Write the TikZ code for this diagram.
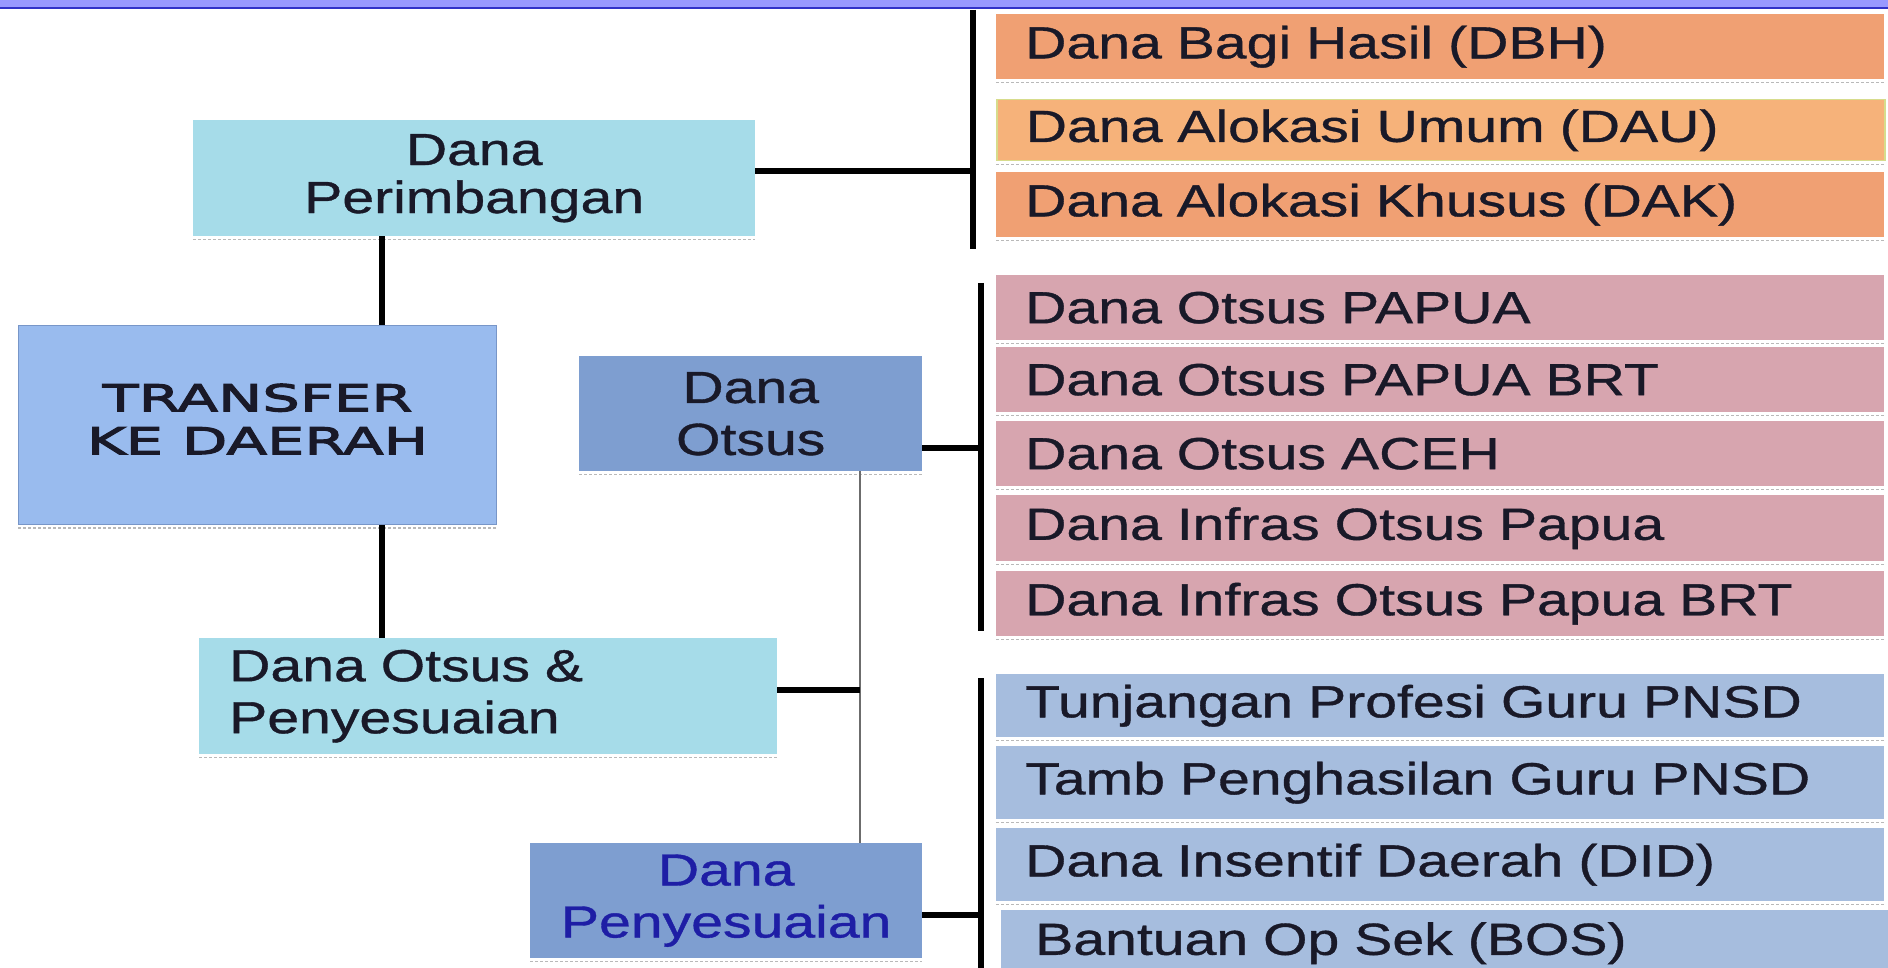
\documentclass[tikz,border=0pt]{standalone}
\usepackage{fontspec}
\newfontfamily\boxfont[FakeStretch=1.27, FakeBold=0.8]{Liberation Sans}
\newfontfamily\headfont[FakeStretch=1.6, FakeBold=3]{DejaVu Sans}
\definecolor{bandblue}{RGB}{153,153,255}
\definecolor{bandline}{RGB}{50,50,200}
\definecolor{cyanbox}{RGB}{166,220,233}
\definecolor{transferblue}{RGB}{153,187,238}
\definecolor{transferedge}{RGB}{120,150,200}
\definecolor{otsusblue}{RGB}{126,158,208}
\definecolor{dbhorange}{RGB}{240,160,115}
\definecolor{dauorange}{RGB}{246,178,122}
\definecolor{dauedge}{RGB}{215,220,140}
\definecolor{otsuspink}{RGB}{215,165,175}
\definecolor{pnsdblue}{RGB}{166,189,222}
\definecolor{textdark}{RGB}{25,25,40}
\definecolor{textblue}{RGB}{30,30,165}
\tikzset{
  shadowline/.style={draw=gray!55, line width=1.5pt, dash pattern=on 3pt off 2pt},
  fundbox/.style={anchor=north west, inner sep=0pt, align=center, text=textdark,
    font=\boxfont\fontsize{45}{52}\selectfont,
    append after command={([yshift=-3pt]\tikzlastnode.south west) edge[shadowline] ([yshift=-3pt]\tikzlastnode.south east)}},
  itembox/.style={fundbox, align=left, minimum width=888pt, text width=830pt, inner xsep=29pt},
  thickline/.style={line width=5.5pt, black},
  thinline/.style={line width=2.5pt, gray!85!black}
}
\begin{document}
\begin{tikzpicture}[x=1pt,y=-1pt]
\useasboundingbox (0,0) rectangle (1888,968);
\fill[white] (0,0) rectangle (1888,968);
% top band
\fill[bandblue] (0,0) rectangle (1888,7);
\draw[bandline, line width=2pt] (0,8) -- (1888,8);

% left tree
\node[fundbox, fill=cyanbox, minimum width=562pt, minimum height=116pt] (perim) at (193,120) {Dana\\[-4pt]Perimbangan};
\node[fundbox, fill=transferblue, draw=transferedge, line width=1pt, minimum width=478pt, minimum height=199pt,
  font=\headfont\fontsize{37}{43}\selectfont] (transfer) at (18,325) {TRANSFER\\KE DAERAH\\[-31pt]};
\node[fundbox, fill=cyanbox, align=left, text width=518pt, inner xsep=30pt, minimum height=116pt] (otspen) at (199,638) {Dana Otsus \&\\Penyesuaian};
\node[fundbox, fill=otsusblue, minimum width=343pt, minimum height=115pt] (dotsus) at (579,356) {Dana\\Otsus};
\node[fundbox, fill=otsusblue, minimum width=392pt, minimum height=115pt, text=textblue] (dpeny) at (530,843) {Dana\\Penyesuaian};

% right column
\node[itembox, fill=dbhorange, minimum height=65pt] (dbh) at (996,14) {Dana Bagi Hasil (DBH)};
\node[itembox, fill=dauorange, draw=dauedge, line width=1.5pt, minimum height=61pt] (dau) at (996,99) {Dana Alokasi Umum (DAU)};
\node[itembox, fill=dbhorange, minimum height=65pt] (dak) at (996,172) {Dana Alokasi Khusus (DAK)};

\node[itembox, fill=otsuspink, minimum height=65pt] (papua) at (996,275) {Dana Otsus PAPUA};
\node[itembox, fill=otsuspink, minimum height=65pt] (papuabrt) at (996,347) {Dana Otsus PAPUA BRT};
\node[itembox, fill=otsuspink, minimum height=65pt] (aceh) at (996,421) {Dana Otsus ACEH};
\node[itembox, fill=otsuspink, minimum height=66pt] (infpapua) at (996,495) {Dana Infras Otsus Papua};
\node[itembox, fill=otsuspink, minimum height=65pt] (infbrt) at (996,571) {Dana Infras Otsus Papua BRT};

\node[itembox, fill=pnsdblue, minimum height=63pt] (tpg) at (996,674) {Tunjangan Profesi Guru PNSD};
\node[itembox, fill=pnsdblue, minimum height=73pt] (tamb) at (996,746) {Tamb Penghasilan Guru PNSD};
\node[itembox, fill=pnsdblue, minimum height=73pt] (did) at (996,828) {Dana Insentif Daerah (DID)};
\node[itembox, fill=pnsdblue, minimum height=66pt, inner xsep=34pt] (bos) at (1001,910) {Bantuan Op Sek (BOS)};

% spines and bars
\coordinate (spine) at (382,0);
\coordinate (branch) at (860,0);
\coordinate (bar1top) at (973,10);
\coordinate (bar1bot) at (973,249);
\coordinate (bar2top) at (981,283);
\coordinate (bar2bot) at (981,631);
\coordinate (bar3top) at (981,678);
\coordinate (bar3bot) at (981,968);

\draw[thickline] (perim.south -| spine) -- (transfer.north -| spine);
\draw[thickline] (transfer.south -| spine) -- (otspen.north -| spine);
\draw[thinline] (dotsus.south -| branch) -- (dpeny.north -| branch);
\draw[thickline] ([yshift=6pt]otspen.east) -- ([yshift=6pt]otspen.east -| branch);

\draw[thickline, line width=6pt] (bar1top) -- (bar1bot);
\draw[thickline, line width=6pt] (bar2top) -- (bar2bot);
\draw[thickline, line width=6pt] (bar3top) -- (bar3bot);
\draw[thickline] ([yshift=7pt]perim.east) -- ([yshift=7pt]perim.east -| bar1top);
\draw[thickline] ([yshift=-34.5pt]dotsus.east) -- ([yshift=-34.5pt]dotsus.east -| bar2top);
\draw[thickline] ([yshift=-14.5pt]dpeny.east) -- ([yshift=-14.5pt]dpeny.east -| bar3top);
\end{tikzpicture}
\end{document}
